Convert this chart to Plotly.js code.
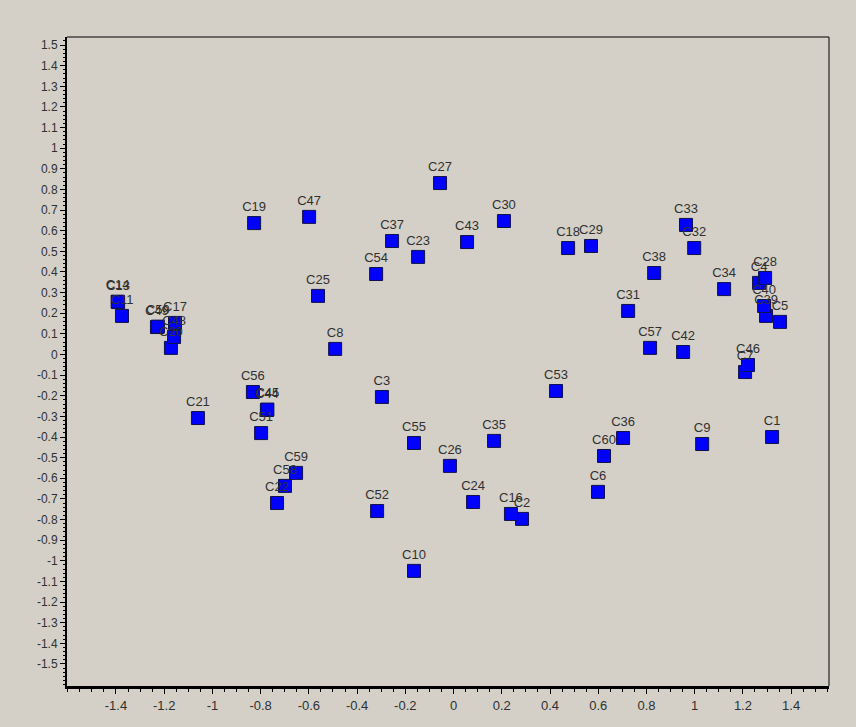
<!DOCTYPE html>
<html>
<head>
<meta charset="utf-8">
<script src="https://cdn.plot.ly/plotly-3.0.1.min.js"></script>
<style>
html,body{margin:0;padding:0;background:#d4d0c8;}
#chart{width:856px;height:727px;}
</style>
</head>
<body>
<div id="chart"></div>
<script>
const labels = ["C1","C2","C3","C4","C5","C6","C7","C8","C9","C10",
  "C11","C13","C14","C16","C17","C18","C19","C20","C21","C22",
  "C23","C24","C25","C26","C27","C28","C29","C30","C31","C32",
  "C33","C34","C35","C36","C37","C38","C39","C40","C42","C43",
  "C44","C45","C46","C47","C48","C49","C50","C51","C52","C53",
  "C54","C55","C56","C57","C58","C59","C60"];
const xVals = [1.321,0.284,-0.297,1.267,1.354,0.599,1.209,-0.491,1.031,-0.164,
  -1.375,-1.391,-1.393,0.238,-1.155,0.475,-0.827,-1.172,-1.060,-0.732,
  -0.147,0.081,-0.562,-0.015,-0.056,1.292,0.570,0.209,0.724,0.998,
  0.964,1.122,0.168,0.703,-0.255,0.832,1.296,1.288,0.952,0.056,
  -0.774,-0.772,1.221,-0.599,-1.159,-1.230,-1.226,-0.798,-0.317,0.425,
  -0.321,-0.164,-0.832,0.815,-0.699,-0.653,0.624];
const yVals = [-0.400,-0.797,-0.206,0.347,0.158,-0.666,-0.085,0.027,-0.434,-1.049,
  0.187,0.254,0.256,-0.773,0.153,0.516,0.637,0.032,-0.308,-0.720,
  0.473,-0.715,0.284,-0.540,0.831,0.371,0.526,0.647,0.211,0.516,
  0.628,0.317,-0.419,-0.405,0.550,0.395,0.187,0.235,0.012,0.545,
  -0.269,-0.267,-0.051,0.667,0.085,0.133,0.135,-0.381,-0.759,-0.177,
  0.390,-0.429,-0.182,0.032,-0.637,-0.574,-0.492];

const xTickVals = [-1.4,-1.2,-1,-0.8,-0.6,-0.4,-0.2,0,0.2,0.4,0.6,0.8,1,1.2,1.4];
const xTickLabels = ["-1.4","-1.2","-1","-0.8","-0.6","-0.4","-0.2","0","0.2","0.4","0.6","0.8","1","1.2","1.4"];
const yTickVals = [-1.5,-1.4,-1.3,-1.2,-1.1,-1,-0.9,-0.8,-0.7,-0.6,-0.5,-0.4,-0.3,-0.2,-0.1,0,
  0.1,0.2,0.3,0.4,0.5,0.6,0.7,0.8,0.9,1,1.1,1.2,1.3,1.4,1.5];
const yTickLabels = ["-1.5","-1.4","-1.3","-1.2","-1.1","-1","-0.9","-0.8","-0.7","-0.6","-0.5","-0.4","-0.3","-0.2","-0.1","0",
  "0.1","0.2","0.3","0.4","0.5","0.6","0.7","0.8","0.9","1","1.1","1.2","1.3","1.4","1.5"];

const trace = {
  type: "scatter",
  mode: "markers+text",
  x: xVals,
  y: yVals,
  text: labels,
  textposition: "top center",
  textfont: {family: "Arial, 'Liberation Sans', sans-serif", size: 13, color: "#303030"},
  marker: {symbol: "square", size: 13, color: "#0000ff", line: {color: "#10104a", width: 1}},
  cliponaxis: false,
  hoverinfo: "skip"
};

const layout = {
  width: 856, height: 727,
  paper_bgcolor: "#d4d0c8",
  plot_bgcolor: "#d4d0c8",
  margin: {l: 67, r: 27, t: 37, b: 41, pad: 0},
  showlegend: false,
  font: {family: "Arial, 'Liberation Sans', sans-serif", size: 12, color: "#303030"},
  xaxis: {
    range: [-1.603, 1.557],
    tickmode: "array", tickvals: xTickVals, ticktext: xTickLabels,
    ticks: "outside", ticklen: 5, tickwidth: 1, tickcolor: "#000",
    minor: {dtick: 0.05, tick0: 0, ticks: "outside", ticklen: 3, tickcolor: "#000", showgrid: false},
    showline: true, linecolor: "#000", linewidth: 3, mirror: false,
    showgrid: false, zeroline: false,
    tickfont: {family: "'Liberation Sans Narrow', 'Arial Narrow', Arial, sans-serif", size: 13, color: "#303030"},
    ticklabelstandoff: 0
  },
  yaxis: {
    range: [-1.607, 1.539],
    tickmode: "array", tickvals: yTickVals, ticktext: yTickLabels,
    ticks: "outside", ticklen: 5, tickwidth: 1, tickcolor: "#000",
    minor: {dtick: 0.02, tick0: 0, ticks: "outside", ticklen: 2, tickcolor: "#000", showgrid: false},
    showline: true, linecolor: "#000", linewidth: 2, mirror: false,
    showgrid: false, zeroline: false,
    tickfont: {family: "Arial, 'Liberation Sans', sans-serif", size: 12, color: "#303030"}
  },
  shapes: [
    {type: "line", xref: "paper", yref: "paper", x0: 0, x1: 1, y0: 1, y1: 1, line: {color: "#000", width: 1}},
    {type: "line", xref: "paper", yref: "paper", x0: 1, x1: 1, y0: 0, y1: 1, line: {color: "#000", width: 1}}
  ]
};

Plotly.newPlot("chart", [trace], layout, {displayModeBar: false, staticPlot: true});
</script>
</body>
</html>
